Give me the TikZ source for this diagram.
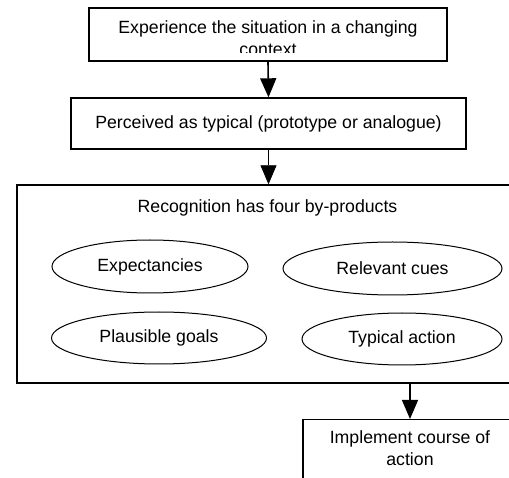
\documentclass[tikz,border=0pt]{standalone}
\usepackage{fontspec}
\setmainfont{Liberation Sans}
\usetikzlibrary{shapes.geometric,arrows.meta}
\tikzset{
  box/.style={draw, line width=1.4pt, inner sep=0pt},
  oval/.style={draw, ellipse, line width=1pt, inner sep=0pt},
  txt/.style={font=\fontsize{17.7}{22}\selectfont, inner sep=0pt, align=center},
  flow/.style={-{Triangle[width=16pt,length=19pt]}}
}
\begin{document}
\begin{tikzpicture}[x=1pt,y=-1pt]
\clip (0,0) rectangle (509,478);

% top boxes
\node (box1)[box, minimum width=358pt, minimum height=53pt] at (268,34.5) {};
\begin{scope}
\clip (89,8) rectangle (447,53);
\node (t1)[txt, anchor=north] at (268,20) {Experience the situation in a changing\\context};
\end{scope}
\node (box2)[box, txt, minimum width=395pt, minimum height=51pt] at (268.5,123.5) {Perceived as typical (prototype or analogue)};

% recognition
\node (box3)[box, minimum width=501pt, minimum height=198pt] at (267.5,284) {};
\node (title)[txt] at (267.5,208) {Recognition has four by-products};

\node (exp)[oval, txt, minimum width=196pt, minimum height=53pt] at (150,266.5) {Expectancies};
\node (cues)[oval, txt, minimum width=219pt, minimum height=53pt] at (392.5,268.5) {Relevant cues};
\node (goals)[oval, txt, minimum width=215pt, minimum height=52pt] at (159,338) {Plausible goals};
\node (act)[oval, txt, minimum width=200pt, minimum height=52pt] at (402,339) {Typical action};

% bottom box
\node (box4)[box, minimum width=214pt, minimum height=70pt, anchor=north] at (410,419) {};
\node (t4)[txt] at (410,448) {Implement course of\\action};

% arrows
\draw[flow, line width=1.6pt] (box1.south) -- (box2.north);
\draw[flow, line width=0.8pt] (box2.south) -- (box2.south |- box3.north);
\draw[flow, line width=1.2pt] (box4.north |- box3.south) -- (box4.north);

\end{tikzpicture}
\end{document}
